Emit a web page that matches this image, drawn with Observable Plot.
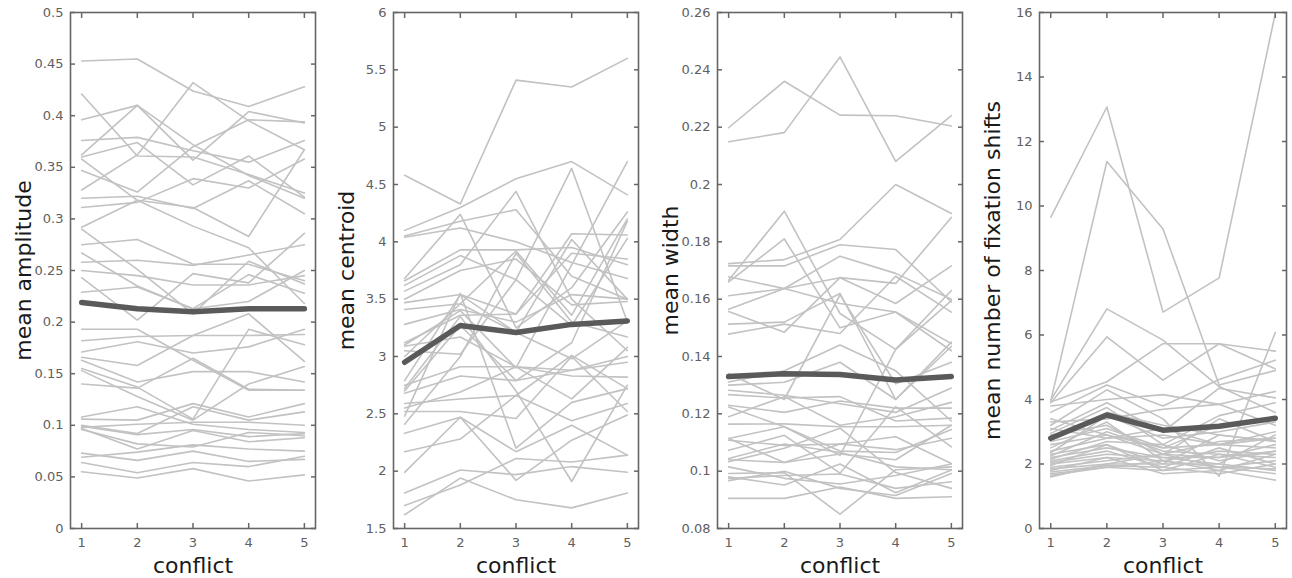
<!DOCTYPE html>
<html>
<head>
<meta charset="utf-8">
<script src="https://cdn.jsdelivr.net/npm/d3@7"></script>
<script src="https://cdn.jsdelivr.net/npm/@observablehq/plot@0.6"></script>
<style>
  html, body { margin: 0; padding: 0; background: #fff; }
  #wrap { position: relative; width: 1292px; height: 578px; overflow: hidden; }
  #wrap svg { position: absolute; top: 0; font-family: "DejaVu Sans", sans-serif; }
  #wrap svg text { font-family: "DejaVu Sans", sans-serif; }
  g[aria-label$="tick label"] { font-size: 13px; fill: #606060; }
  g[aria-label$="axis label"] { fill: #1a1a1a; font-size: 22px; }
</style>
</head>
<body>
<div id="wrap"></div>
<script>
// ---- categories / ticks ----
const conflictLevels = [1, 2, 3, 4, 5];
const xLabel = "conflict";

const amplitudeTicks = [0, 0.05, 0.1, 0.15, 0.2, 0.25, 0.3, 0.35, 0.4, 0.45, 0.5];
const centroidTicks = [1.5, 2, 2.5, 3, 3.5, 4, 4.5, 5, 5.5, 6];
const widthTicks = [0.08, 0.1, 0.12, 0.14, 0.16, 0.18, 0.2, 0.22, 0.24, 0.26];
const shiftTicks = [0, 2, 4, 6, 8, 10, 12, 14, 16];

// ---- per-subject series (values at conflict 1..5) ----
const amplitudeSubjects = [
  [0.453, 0.455, 0.424, 0.409, 0.428],
  [0.421, 0.361, 0.360, 0.343, 0.325],
  [0.396, 0.410, 0.372, 0.342, 0.320],
  [0.376, 0.379, 0.366, 0.355, 0.376],
  [0.360, 0.374, 0.333, 0.361, 0.321],
  [0.362, 0.410, 0.357, 0.404, 0.393],
  [0.347, 0.326, 0.370, 0.396, 0.394],
  [0.328, 0.362, 0.432, 0.395, 0.367],
  [0.320, 0.322, 0.310, 0.337, 0.305],
  [0.311, 0.316, 0.339, 0.330, 0.358],
  [0.358, 0.318, 0.311, 0.283, 0.367],
  [0.292, 0.318, 0.293, 0.272, 0.218],
  [0.290, 0.251, 0.208, 0.259, 0.237],
  [0.275, 0.280, 0.256, 0.256, 0.240],
  [0.267, 0.235, 0.213, 0.246, 0.228],
  [0.258, 0.260, 0.255, 0.265, 0.275],
  [0.250, 0.245, 0.236, 0.236, 0.245],
  [0.243, 0.202, 0.247, 0.238, 0.286],
  [0.229, 0.234, 0.213, 0.220, 0.250],
  [0.193, 0.193, 0.163, 0.134, 0.134],
  [0.182, 0.186, 0.187, 0.187, 0.188],
  [0.171, 0.181, 0.170, 0.176, 0.193],
  [0.166, 0.158, 0.187, 0.208, 0.162],
  [0.163, 0.142, 0.152, 0.152, 0.142],
  [0.155, 0.137, 0.106, 0.193, 0.178],
  [0.153, 0.128, 0.105, 0.140, 0.157],
  [0.140, 0.136, 0.165, 0.135, 0.134],
  [0.108, 0.118, 0.101, 0.096, 0.093],
  [0.106, 0.105, 0.121, 0.108, 0.121],
  [0.100, 0.092, 0.118, 0.105, 0.113],
  [0.098, 0.101, 0.103, 0.103, 0.100],
  [0.096, 0.082, 0.079, 0.093, 0.090],
  [0.099, 0.091, 0.096, 0.089, 0.092],
  [0.097, 0.077, 0.095, 0.084, 0.088],
  [0.073, 0.066, 0.075, 0.065, 0.067],
  [0.069, 0.074, 0.081, 0.077, 0.075],
  [0.064, 0.054, 0.064, 0.060, 0.070],
  [0.055, 0.049, 0.058, 0.046, 0.052]
];
const amplitudeMean = [0.219, 0.213, 0.210, 0.213, 0.213];

const centroidSubjects = [
  [4.58, 4.33, 5.41, 5.35, 5.60],
  [4.10, 4.30, 4.55, 4.70, 4.41],
  [4.05, 4.18, 4.28, 3.70, 3.50],
  [4.04, 4.12, 4.00, 3.82, 3.68],
  [3.68, 4.24, 3.25, 3.60, 4.26],
  [3.66, 3.93, 3.93, 3.95, 3.80],
  [3.62, 3.88, 3.67, 4.64, 3.30],
  [3.57, 3.80, 4.44, 3.50, 3.05],
  [3.47, 3.54, 3.37, 4.07, 4.06],
  [3.41, 3.46, 3.92, 3.36, 4.20],
  [3.28, 3.41, 3.30, 3.54, 3.50],
  [3.12, 3.36, 3.37, 3.90, 3.85],
  [3.09, 3.17, 2.91, 2.88, 2.95],
  [3.05, 3.02, 3.67, 3.27, 4.03],
  [3.00, 3.46, 3.21, 2.98, 3.31],
  [2.79, 3.54, 3.21, 4.02, 3.50],
  [2.75, 2.91, 2.91, 2.83, 2.82],
  [2.72, 3.35, 2.70, 1.91, 2.75],
  [2.70, 3.27, 2.79, 3.12, 4.18],
  [2.68, 2.83, 2.79, 2.88, 3.00],
  [2.59, 2.63, 2.66, 3.01, 2.72],
  [2.55, 2.69, 2.91, 2.63, 3.08],
  [2.52, 2.52, 2.46, 3.00, 2.52],
  [2.48, 3.55, 2.20, 2.60, 2.72],
  [2.41, 3.00, 3.90, 3.30, 3.17],
  [2.33, 2.47, 1.92, 2.27, 2.49],
  [2.17, 2.28, 2.66, 2.44, 2.59],
  [1.99, 2.47, 2.17, 2.40, 2.14],
  [1.81, 2.01, 1.97, 2.04, 1.99],
  [1.70, 1.88, 2.11, 2.08, 2.14],
  [1.62, 1.94, 1.75, 1.68, 1.81],
  [3.10, 3.40, 2.90, 3.80, 4.70],
  [3.50, 3.75, 3.85, 3.45, 3.48]
];
const centroidMean = [2.95, 3.27, 3.21, 3.28, 3.31];

const widthSubjects = [
  [0.2198, 0.2360, 0.2242, 0.2240, 0.2204],
  [0.2149, 0.2181, 0.2445, 0.2081, 0.2240],
  [0.1724, 0.1738, 0.1808, 0.2000, 0.1899],
  [0.1716, 0.1716, 0.1790, 0.1773, 0.1590],
  [0.1666, 0.1907, 0.1550, 0.1425, 0.1630],
  [0.1660, 0.1810, 0.1500, 0.1555, 0.1445],
  [0.1678, 0.1637, 0.1750, 0.1690, 0.1600],
  [0.1612, 0.1637, 0.1675, 0.1655, 0.1885],
  [0.1565, 0.1637, 0.1585, 0.1555, 0.1420],
  [0.1557, 0.1485, 0.1675, 0.1585, 0.1716],
  [0.1513, 0.1520, 0.1620, 0.1250, 0.1435],
  [0.1478, 0.1513, 0.1480, 0.1680, 0.1555],
  [0.1340, 0.1250, 0.1615, 0.1305, 0.1380],
  [0.1311, 0.1350, 0.1440, 0.1350, 0.1175],
  [0.1300, 0.1310, 0.1380, 0.1250, 0.1450],
  [0.1282, 0.1265, 0.1235, 0.1205, 0.1290],
  [0.1267, 0.1255, 0.1260, 0.1175, 0.1185],
  [0.1230, 0.1205, 0.1245, 0.1220, 0.1220],
  [0.1224, 0.1155, 0.1055, 0.1425, 0.1595],
  [0.1190, 0.1260, 0.1160, 0.1190, 0.1240],
  [0.1164, 0.1165, 0.1155, 0.1155, 0.1160],
  [0.1114, 0.1155, 0.1070, 0.1065, 0.1145],
  [0.1108, 0.1090, 0.1095, 0.1075, 0.1115],
  [0.1114, 0.1030, 0.1060, 0.1040, 0.1160],
  [0.1073, 0.1125, 0.0993, 0.1225, 0.1085],
  [0.1044, 0.1095, 0.1065, 0.1015, 0.1005],
  [0.1040, 0.1030, 0.1095, 0.1120, 0.1027],
  [0.1033, 0.1080, 0.1150, 0.0995, 0.0940],
  [0.1015, 0.0975, 0.0955, 0.0985, 0.1025],
  [0.0992, 0.0995, 0.0850, 0.1005, 0.1015],
  [0.0980, 0.0952, 0.1025, 0.0925, 0.1004],
  [0.0975, 0.0985, 0.0990, 0.0940, 0.0963],
  [0.0967, 0.1000, 0.0940, 0.0915, 0.0992],
  [0.0905, 0.0905, 0.0945, 0.0905, 0.0911]
];
const widthMean = [0.1330, 0.1340, 0.1337, 0.1318, 0.1330];

const shiftSubjects = [
  [9.65, 13.07, 6.71, 7.77, 15.97],
  [3.95, 11.38, 9.29, 4.45, 4.90],
  [3.98, 6.81, 5.84, 4.40, 3.60],
  [3.90, 5.94, 4.60, 5.73, 4.95],
  [3.92, 4.55, 5.73, 5.73, 5.50],
  [3.60, 4.45, 3.80, 4.62, 5.22],
  [3.20, 4.30, 3.40, 1.62, 6.08],
  [3.80, 4.00, 4.15, 3.85, 4.25],
  [3.05, 3.90, 3.00, 4.35, 4.05],
  [2.95, 3.75, 2.60, 3.50, 3.90],
  [3.30, 3.40, 3.70, 3.85, 3.20],
  [2.80, 3.60, 3.20, 2.90, 2.70],
  [2.70, 3.10, 2.50, 3.20, 3.40],
  [2.60, 2.90, 2.30, 2.70, 2.80],
  [2.50, 3.30, 2.10, 2.40, 2.30],
  [2.40, 2.80, 3.10, 2.60, 2.50],
  [2.30, 2.60, 2.00, 2.90, 2.70],
  [2.25, 3.00, 2.40, 2.30, 2.20],
  [2.20, 2.50, 2.20, 2.00, 2.90],
  [2.15, 2.70, 2.60, 2.10, 2.40],
  [2.10, 2.40, 1.90, 2.50, 2.00],
  [2.05, 2.30, 2.20, 2.20, 2.60],
  [2.00, 2.20, 2.10, 1.80, 2.30],
  [1.95, 2.60, 1.80, 2.30, 1.90],
  [1.90, 2.10, 2.30, 1.90, 2.10],
  [1.85, 2.00, 2.00, 2.00, 1.80],
  [1.80, 2.20, 1.70, 1.80, 1.50],
  [1.75, 1.95, 1.90, 1.70, 2.00],
  [1.70, 1.90, 2.10, 1.90, 1.70],
  [1.65, 1.90, 1.80, 1.90, 1.85],
  [1.60, 2.00, 2.30, 2.20, 2.40],
  [2.90, 3.20, 2.30, 3.40, 2.70],
  [3.10, 2.80, 2.90, 2.60, 3.00],
  [2.35, 3.50, 2.80, 3.00, 3.30],
  [3.40, 2.90, 2.50, 2.60, 2.80]
];
const shiftMean = [2.80, 3.52, 3.05, 3.17, 3.42];

// ---- panels ----
const panels = [
  {label: "mean amplitude", subjects: amplitudeSubjects, mean: amplitudeMean, ticks: amplitudeTicks, left: 0, ml: 70, mr: 8},
  {label: "mean centroid", subjects: centroidSubjects, mean: centroidMean, ticks: centroidTicks, left: 323, ml: 70, mr: 8},
  {label: "mean width", subjects: widthSubjects, mean: widthMean, ticks: widthTicks, left: 646, ml: 71, mr: 7},
  {label: "mean number of fixation shifts", subjects: shiftSubjects, mean: shiftMean, ticks: shiftTicks, left: 969, ml: 70, mr: 6}
];

const fmt = d => String(+(+d).toFixed(4));
const frameColor = "#666666";
const wrap = document.getElementById("wrap");

for (const p of panels) {
  const rows = [];
  p.subjects.forEach((s, id) => s.forEach((v, j) => rows.push({id, conflict: conflictLevels[j], value: v})));
  const meanRows = p.mean.map((v, j) => ({conflict: conflictLevels[j], value: v}));
  const yDomain = [p.ticks[0], p.ticks[p.ticks.length - 1]];

  const svg = Plot.plot({
    width: 323,
    height: 578,
    marginTop: 12,
    marginBottom: 50,
    marginLeft: p.ml,
    marginRight: p.mr,
    style: {fontFamily: "DejaVu Sans, sans-serif", fontSize: "13px", background: "transparent", overflow: "visible"},
    x: {domain: [0.8, 5.2]},
    y: {domain: yDomain},
    marks: [
      Plot.line(rows, {x: "conflict", y: "value", z: "id", stroke: "#c2c2c2", strokeWidth: 1.6}),
      Plot.line(meanRows, {x: "conflict", y: "value", stroke: "#5a5a5a", strokeWidth: 5.5}),
      Plot.frame({stroke: frameColor, strokeWidth: 1.6}),
      Plot.axisY({anchor: "left", ticks: p.ticks, tickSize: -5, tickPadding: 12, tickFormat: fmt,
        stroke: frameColor, strokeWidth: 1.5, fill: "#606060", fontSize: 13,
        label: p.label, labelAnchor: "center", labelOffset: 55, labelArrow: "none"}),
      Plot.axisY({anchor: "right", ticks: p.ticks, tickSize: -5, tickFormat: () => "",
        stroke: frameColor, strokeWidth: 1.5, label: null}),
      Plot.axisX({anchor: "bottom", ticks: conflictLevels, tickSize: -5, tickPadding: 14, tickFormat: fmt,
        stroke: frameColor, strokeWidth: 1.5, fill: "#606060", fontSize: 13,
        label: xLabel, labelAnchor: "center", labelOffset: 44, labelArrow: "none"}),
      Plot.axisX({anchor: "top", ticks: conflictLevels, tickSize: -5, tickFormat: () => "",
        stroke: frameColor, strokeWidth: 1.5, label: null})
    ]
  });
  svg.style.left = p.left + "px";
  wrap.appendChild(svg);
}
</script>
</body>
</html>
